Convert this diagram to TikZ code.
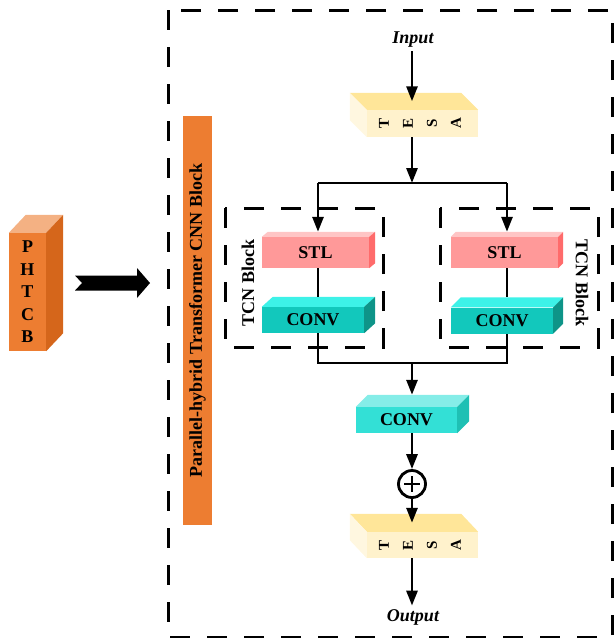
\documentclass[tikz,border=0pt]{standalone}
\usepackage{fontspec}
\setmainfont{Liberation Serif}
\usetikzlibrary{calc,arrows.meta}

\definecolor{orgfront}{HTML}{ED7D31}
\definecolor{orgtop}{HTML}{F4B183}
\definecolor{orgside}{HTML}{D5661B}
\definecolor{tesafront}{HTML}{FFF2CC}
\definecolor{tesatop}{HTML}{FFE699}
\definecolor{tesaside}{HTML}{FFF7E0}
\definecolor{stlfront}{HTML}{FF9999}
\definecolor{stltop}{HTML}{FFC5C5}
\definecolor{stlside}{HTML}{FF6B6B}
\definecolor{convfront}{HTML}{12C8BC}
\definecolor{convtop}{HTML}{3DF2E8}
\definecolor{convside}{HTML}{0E9488}
\definecolor{mconvfront}{HTML}{33E0D6}
\definecolor{mconvtop}{HTML}{85EDE8}
\definecolor{mconvside}{HTML}{1FC0B4}

% top face, side face and two helper coordinates of a box node
\newcommand{\blockfaces}[5]{%
  \fill[#3] (#1.north west) -- ++(#2) -- ($(#1.north east)+(#2)$) -- (#1.north east) -- cycle;
  \fill[#4] (#1.north #5) -- ++(#2) -- ($(#1.south #5)+(#2)$) -- (#1.south #5) -- cycle;
  \coordinate (#1-t) at ($(#1.north)+(#2)$);
  \coordinate (#1-m) at ($(#1.north)+0.5*(#2)$);
}

\begin{document}
\begin{tikzpicture}[x=1pt, y=-1pt, >={Triangle[length=15pt,width=11pt]},
  blk/.style={inner sep=0pt, font=\fontsize{18}{20}\selectfont\bfseries},
  lbl/.style={font=\fontsize{18}{20}\selectfont\bfseries},
  wire/.style={line width=2.8pt},
  arr/.style={line width=2.8pt, ->},
  dashframe/.style={line width=3pt, dash pattern=on 20pt off 17pt}]
  \useasboundingbox (0,0) rectangle (616,638);

  % left part
  \node[blk, fill=orgfront, minimum width=37pt, minimum height=118pt, align=center,
        font=\fontsize{18}{22.5}\selectfont\bfseries] (phtcb) at (27.5,292) {P\\H\\T\\C\\B};
  \blockfaces{phtcb}{17,-18}{orgtop}{orgside}{east}
  \coordinate (fatL) at (75,283);
  \fill (fatL) ++(0,-7.5) -- ++(62,0) -- ++(0,-7.5) -- ++(13,15) -- ++(-13,15) -- ++(0,-7.5)
        -- ++(-62,0) -- ++(7,-7.5) -- cycle;

  % outer frame and side bar
  \draw[dashframe] (168,10) rectangle (612,637);
  \node[fill=orgfront, minimum width=29pt, minimum height=409pt, inner sep=0pt] (bar) at (197.5,320.5) {};
  \node[lbl, rotate=90] (barTxt) at (bar) {Parallel-hybrid Transformer CNN Block};

  % TCN frames
  \draw[dashframe] (225,208) rectangle (383,347);
  \draw[dashframe] (440,208) rectangle (598,347);
  \node[lbl, rotate=90] (tcnL) at (248,283) {TCN Block};
  \node[lbl, rotate=-90] (tcnR) at (582,283) {TCN Block};

  % boxes
  \node[blk, fill=tesafront, minimum width=111pt, minimum height=27pt] (tesaIn) at (422.5,123.5) {};
  \blockfaces{tesaIn}{-17,-17}{tesatop}{tesaside}{west}
  \node[rotate=90, align=center, font=\fontsize{15}{24}\selectfont\bfseries] (tesaInTxt) at (420,123) {T\\E\\S\\A};

  \node[blk, fill=stlfront, minimum width=107pt, minimum height=31pt] (stlL) at (315.5,252.5) {STL};
  \blockfaces{stlL}{6,-5}{stltop}{stlside}{east}
  \node[blk, fill=convfront, minimum width=102pt, minimum height=26pt] (convL) at (313,320) {CONV};
  \blockfaces{convL}{11,-10}{convtop}{convside}{east}

  \node[blk, fill=stlfront, minimum width=107pt, minimum height=31pt] (stlR) at (504.5,252.5) {STL};
  \blockfaces{stlR}{5,-5}{stltop}{stlside}{east}
  \node[blk, fill=convfront, minimum width=102pt, minimum height=26pt] (convR) at (502,320.5) {CONV};
  \blockfaces{convR}{10,-10}{convtop}{convside}{east}

  \node[blk, fill=mconvfront, minimum width=101pt, minimum height=26pt] (conv) at (406.5,420) {CONV};
  \blockfaces{conv}{12,-12}{mconvtop}{mconvside}{east}

  \node[blk, fill=tesafront, minimum width=111pt, minimum height=26pt] (tesaOut) at (422.5,545) {};
  \blockfaces{tesaOut}{-17,-18}{tesatop}{tesaside}{west}
  \node[rotate=90, align=center, font=\fontsize{15}{24}\selectfont\bfseries] (tesaOutTxt) at (420,545) {T\\E\\S\\A};

  \node[circle, draw, line width=2.8pt, fill=white, minimum size=27pt, inner sep=0pt] (plus) at (412,484) {};
  \draw[line width=2.2pt] ($(plus.center)+(-8,0)$) -- ($(plus.center)+(8,0)$);
  \draw[line width=2.2pt] ($(plus.center)+(0,-8)$) -- ($(plus.center)+(0,8)$);

  \node[lbl, font=\fontsize{18}{20}\selectfont\bfseries\itshape] (input) at (413,40) {Input};
  \node[lbl, font=\fontsize{18}{20}\selectfont\bfseries\itshape] (output) at (413,617) {Output};

  % connectors
  \coordinate (split) at (412,183);
  \coordinate (colL) at (318,183);
  \coordinate (colR) at (507,183);
  \coordinate (mergeL) at (318,363);
  \coordinate (mergeR) at (507,363);

  \draw[arr] (split |- input.south) -- (split |- tesaIn-m);
  \draw[arr] (split |- tesaIn.south) -- (split);
  \draw[wire] (colL) -- (colR);
  \draw[arr] (colL) -- (colL |- stlL-t);
  \draw[arr] (colR) -- (colR |- stlR-t);
  \draw[wire] (colL |- stlL.south) -- (colL |- convL-t);
  \draw[wire] (colR |- stlR.south) -- (colR |- convR-t);
  \draw[wire] (colL |- convL.south) -- (mergeL) -- (mergeR) -- (colR |- convR.south);
  \draw[arr] (split |- mergeL) -- (split |- conv-t);
  \draw[arr] (split |- conv.south) -- (plus);
  \draw[arr] (plus) -- (split |- tesaOut-m);
  \draw[arr] (split |- tesaOut.south) -- (split |- output.north);
\end{tikzpicture}
\end{document}
